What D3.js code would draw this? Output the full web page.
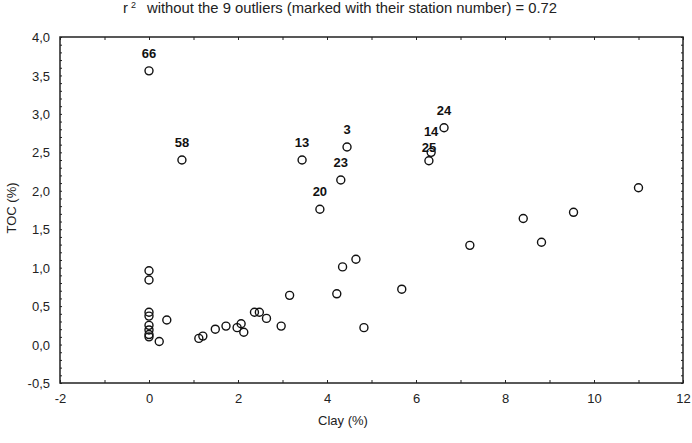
<!DOCTYPE html>
<html>
<head>
<meta charset="utf-8">
<script src="https://cdn.jsdelivr.net/npm/d3@7"></script>
<style>
  body { margin: 0; background: #fff; }
  svg { font-family: "Liberation Sans", Arial, sans-serif; }
</style>
</head>
<body>
<svg id="chart" width="692" height="443"></svg>
<script>
// regular stations
var clay = [0, 0, 0, 0, 0, 0, 0, 0, 0.40, 0.23, 1.12, 1.21, 1.49, 1.73, 1.98, 2.07, 2.13,
            2.37, 2.48, 2.64, 2.97, 3.16, 4.22, 4.35, 4.65, 4.83, 5.68, 7.21, 8.41, 8.82, 9.54, 11.0];
var toc  = [0.96, 0.84, 0.42, 0.37, 0.25, 0.19, 0.13, 0.10, 0.32, 0.04, 0.08, 0.11, 0.20, 0.24, 0.22, 0.27, 0.16,
            0.42, 0.42, 0.34, 0.24, 0.64, 0.66, 1.01, 1.11, 0.22, 0.72, 1.29, 1.64, 1.33, 1.72, 2.04];

// outliers, labelled with station number
var outStation = ["66", "58", "13", "3", "23", "20", "24", "14", "25"];
var outClay    = [0, 0.74, 3.44, 4.45, 4.31, 3.84, 6.63, 6.34, 6.29];
var outToc     = [3.56, 2.40, 2.40, 2.57, 2.14, 1.76, 2.82, 2.50, 2.39];

var xTicks = [-2, 0, 2, 4, 6, 8, 10, 12];
var yTicks = [-0.5, 0, 0.5, 1, 1.5, 2, 2.5, 3, 3.5, 4];

var svg = d3.select("#chart"),
    m = {left: 60, right: 9, top: 37, bottom: 60},
    W = 692 - m.left - m.right,
    H = 443 - m.top - m.bottom;

var x = d3.scaleLinear().domain([-2, 12]).range([m.left, m.left + W]);
var y = d3.scaleLinear().domain([-0.5, 4]).range([m.top + H, m.top]);
var fmtY = function(d) { return d.toFixed(1).replace(".", ","); };
var fmtX = function(d) { return String(d); };

// minor ticks
var xMinor = d3.range(-2, 12.01, 1);
var yMinor = d3.range(-0.5, 4.001, 0.1);

svg.append("g").attr("transform", "translate(0," + (m.top + H) + ")")
  .call(d3.axisTop(x).tickValues(xMinor).tickSize(3).tickFormat(""));
svg.append("g").attr("transform", "translate(0," + m.top + ")")
  .call(d3.axisBottom(x).tickValues(xMinor).tickSize(3).tickFormat(""));
svg.append("g").attr("transform", "translate(" + m.left + ",0)")
  .call(d3.axisRight(y).tickValues(yMinor).tickSize(2).tickFormat(""));
svg.append("g").attr("transform", "translate(" + (m.left + W) + ",0)")
  .call(d3.axisLeft(y).tickValues(yMinor).tickSize(2).tickFormat(""));
svg.selectAll(".domain").remove();

// labelled axes
var xAxis = svg.append("g").attr("transform", "translate(0," + (m.top + H) + ")")
  .call(d3.axisBottom(x).tickValues(xTicks).tickSize(0).tickPadding(11).tickFormat(fmtX));
var yAxis = svg.append("g").attr("transform", "translate(" + m.left + ",0)")
  .call(d3.axisLeft(y).tickValues(yTicks).tickSize(0).tickPadding(10).tickFormat(fmtY));
[xAxis, yAxis].forEach(function(a) {
  a.select(".domain").remove();
  a.selectAll("text").attr("font-size", 13).attr("fill", "#222").attr("font-family", "Liberation Sans, Arial, sans-serif");
});
yAxis.selectAll("text").attr("dy", "0.35em");

svg.append("rect")
  .attr("x", m.left).attr("y", m.top).attr("width", W).attr("height", H)
  .attr("fill", "none").attr("stroke", "#222").attr("stroke-width", 1.5);

svg.selectAll("g.tick line").attr("stroke", "#222");

// points
svg.append("g").selectAll("circle")
  .data(clay.map(function(d, i) { return [d, toc[i]]; }).concat(outClay.map(function(d, i) { return [d, outToc[i]]; })))
  .enter().append("circle")
  .attr("cx", function(d) { return x(d[0]); })
  .attr("cy", function(d) { return y(d[1]); })
  .attr("r", 4)
  .attr("fill", "none")
  .attr("stroke", "#111")
  .attr("stroke-width", 1.4);

var labOff = {"14": -16, "25": -9};
svg.append("g").selectAll("text")
  .data(outStation)
  .enter().append("text")
  .attr("x", function(d, i) { return x(outClay[i]); })
  .attr("y", function(d, i) { return y(outToc[i]) + (labOff[d] !== undefined ? labOff[d] : -13); })
  .attr("text-anchor", "middle")
  .attr("font-size", 13).attr("font-weight", "bold").attr("fill", "#111")
  .text(function(d) { return d; });

// titles
var t = svg.append("text").attr("y", 13).attr("font-size", 14.8).attr("fill", "#222");
t.append("tspan").attr("x", 123).text("r");
t.append("tspan").attr("font-size", 9).attr("dy", -5).attr("dx", 3).text("2");
t.append("tspan").attr("x", 147).attr("dy", 5).text("without the 9 outliers (marked with their station number) = 0.72");

svg.append("text")
  .attr("x", 343).attr("y", 425)
  .attr("text-anchor", "middle").attr("font-size", 13).attr("fill", "#222")
  .text("Clay (%)");

svg.append("text")
  .attr("transform", "translate(16,208) rotate(-90)")
  .attr("text-anchor", "middle").attr("font-size", 13).attr("fill", "#222")
  .text("TOC (%)");
</script>
</body>
</html>
